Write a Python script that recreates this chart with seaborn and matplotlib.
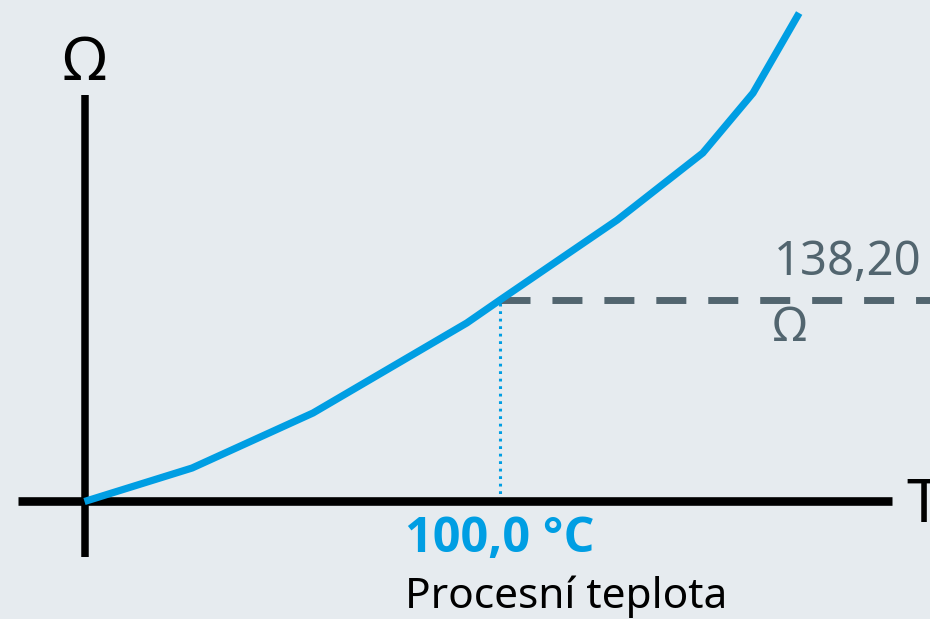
import matplotlib
matplotlib.use("Agg")
import matplotlib.pyplot as plt
import seaborn as sns
import pandas as pd

# ---- data (schematic Pt100 characteristic) ----
temperature_c = [0.0, 25.9, 55.0, 92.0, 100.0, 128.2, 148.8, 160.9, 172.0]
resistance_ohm = [100.0, 106.35, 116.78, 133.84, 138.20, 153.36, 166.07, 177.44, 192.6]
marker_temp = 100.0
marker_res = 138.20
marker_temp_label = "100,0 °C"
marker_res_label = "138,20"
unit_label = "Ω"
x_axis_label = "T"
x_caption = "Procesní teplota"

# ---- styling ----
BG = "#e6ebef"
BLUE = "#009ee3"
GREY = "#52656f"
W, H = 930, 619

sns.set_theme(style="white")
plt.rcParams["font.family"] = ["Noto Sans", "DejaVu Sans"]

# pixel -> data mapping (layout of the schematic)
PX_ORIGIN_X, PX_ORIGIN_Y = 84.5, 501.5
PX_PER_DEG = (500 - PX_ORIGIN_X) / 100.0
PX_PER_OHM = (PX_ORIGIN_Y - 300) / (138.20 - 100.0)


def dx(px):
    return (px - PX_ORIGIN_X) / PX_PER_DEG


def dy(py):
    return 100.0 + (PX_ORIGIN_Y - py) / PX_PER_OHM


fig = plt.figure(figsize=(W / 100, H / 100), dpi=100, facecolor=BG)
ax = fig.add_axes([0, 0, 1, 1])
ax.set_facecolor(BG)

# axes cross
ax.plot([0, 0], [dy(557), dy(95)], color="black", lw=5.4, solid_capstyle="butt", zorder=3)
ax.plot([dx(18), dx(892)], [100, 100], color="black", lw=6.2, solid_capstyle="butt", zorder=3)

# dashed reference line (resistance)
lw_d = 5.0
ax.plot([marker_temp, dx(W)], [marker_res, marker_res], color=GREY, lw=lw_d,
        dash_capstyle="butt",
        linestyle=(0, (21.6 / lw_d, 15.8 / lw_d)), zorder=1)

# dotted reference line (temperature)
lw_t = 2.2
ax.plot([marker_temp, marker_temp], [100, marker_res], color=BLUE, lw=lw_t,
        dash_capstyle="butt", linestyle=(0, (2.0 / lw_t, 3.4 / lw_t)), zorder=2)

# characteristic curve
df = pd.DataFrame({"T": temperature_c, "R": resistance_ohm})
sns.lineplot(data=df, x="T", y="R", ax=ax, color=BLUE, lw=5.2, sort=False,
             solid_capstyle="butt", solid_joinstyle="miter", zorder=4)

ax.set_xlim(dx(0), dx(W))
ax.set_ylim(dy(H), dy(0))
ax.axis("off")

# texts
ax.text(0, dy(80), unit_label, fontsize=44, color="black", ha="center", va="baseline")
ax.text(dx(906), dy(522), x_axis_label, fontsize=44, color="black", ha="left", va="baseline")
ax.text(dx(774), dy(275), marker_res_label, fontsize=34, color=GREY, ha="left", va="baseline")
ax.text(dx(773), dy(341), unit_label, fontsize=34, color=GREY, ha="left", va="baseline")
ax.text(dx(405), dy(552), marker_temp_label, fontsize=35, color=BLUE, fontweight="bold",
        family=["Open Sans", "DejaVu Sans"], ha="left", va="baseline")
ax.text(dx(405), dy(608), x_caption, fontsize=30.5, color="black", ha="left", va="baseline")

fig.savefig("out.png", dpi=100, facecolor=BG)
